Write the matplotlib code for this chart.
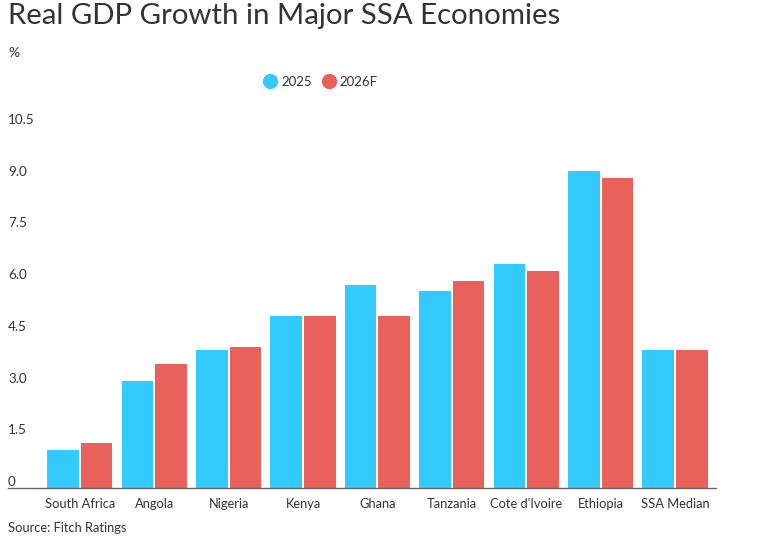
import numpy as np
import matplotlib
matplotlib.use("Agg")
import matplotlib.pyplot as plt
from matplotlib.lines import Line2D

plt.rcParams['font.family'] = ['Lato', 'DejaVu Sans']

countries = ["South Africa", "Angola", "Nigeria", "Kenya", "Ghana",
             "Tanzania", "Cote d'Ivoire", "Ethiopia", "SSA Median"]
growth_2025 = [1.1, 3.1, 4.0, 5.0, 5.9, 5.7, 6.5, 9.2, 4.0]
growth_2026f = [1.3, 3.6, 4.1, 5.0, 5.0, 6.0, 6.3, 9.0, 4.0]
series_names = ["2025", "2026F"]
y_ticks = [0, 1.5, 3.0, 4.5, 6.0, 7.5, 9.0, 10.5]
y_tick_labels = ["0", "1.5", "3.0", "4.5", "6.0", "7.5", "9.0", "10.5"]

blue = "#33CBFD"
red = "#E8615B"
text_col = "#333333"

fig = plt.figure(figsize=(7.66, 5.36), dpi=100)
ax = fig.add_axes([8 / 766, 1 - 488 / 536, 708 / 766, (488 - 126) / 536])

x = np.arange(len(countries))
w = 0.425
ax.bar(x - w / 2 - 0.013, growth_2025, width=w, color=blue, linewidth=0)
ax.bar(x + w / 2 + 0.013, growth_2026f, width=w, color=red, linewidth=0)

ax.set_xlim(-0.965, len(countries) - 1 + 0.55)
ax.set_ylim(0, 10.5)

for s in ["top", "right", "left"]:
    ax.spines[s].set_visible(False)
ax.spines["bottom"].set_color("#666666")
ax.spines["bottom"].set_linewidth(1)

# y labels sit just above their value line, no gridlines
ax.set_yticks([])
for v, lab in zip(y_ticks, y_tick_labels):
    ax.text(0, v, lab, transform=ax.get_yaxis_transform(), ha="left", va="bottom",
            fontsize=9.7, color=text_col)

ax.set_xticks(x)
ax.set_xticklabels(countries, fontsize=9.3, color=text_col)
ax.tick_params(axis="x", length=0, pad=7)

fig.text(8 / 766, 1 - 16 / 536, "Real GDP Growth in Major SSA Economies",
         fontsize=21.2, color=text_col, ha="left", va="center")
fig.text(8 / 766, 1 - 53 / 536, "%", fontsize=10, color=text_col, ha="left", va="center")
fig.text(8 / 766, 1 - 528 / 536, "Source: Fitch Ratings", fontsize=9.3, color=text_col,
         ha="left", va="center")

handles = [Line2D([], [], marker="o", linestyle="", markersize=10, color=c)
           for c in (blue, red)]
leg = fig.legend(handles, series_names, loc="center", bbox_to_anchor=(320 / 766, 1 - 82 / 536),
                 ncol=2, frameon=False, fontsize=9.5, handletextpad=0.2, columnspacing=0.7,
                 handlelength=1.2)
for t in leg.get_texts():
    t.set_color(text_col)

fig.savefig("out.png", dpi=100)
